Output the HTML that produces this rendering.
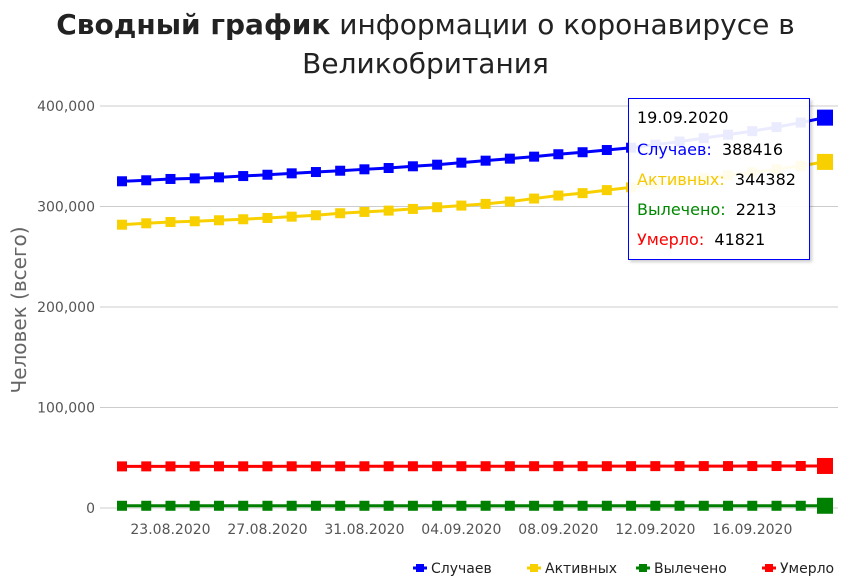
<!DOCTYPE html>
<html><head><meta charset="utf-8"><style>
body{margin:0;background:#fff;font-family:"DejaVu Sans","Liberation Sans",sans-serif;}
#wrap{position:relative;width:851px;height:579px;overflow:hidden;}
#title{position:absolute;left:0;top:5px;width:851px;text-align:center;font-size:28px;line-height:39px;color:#222;}
#tip{position:absolute;left:628px;top:98px;width:180px;height:160px;border:1px solid #00f;background:rgba(255,255,255,0.92);font-size:16px;box-shadow:2px 2px 3px rgba(0,0,0,.2);}
#tip div{position:absolute;left:8px;}
</style></head><body>
<div id="wrap">
<div id="title"><b>Сводный график</b> информации о коронавирусе в<br>Великобритания</div>
<svg id="chart" width="851" height="579" style="position:absolute;left:0;top:0"></svg>
<div id="tip">
<div style="top:9px;color:#000">19.09.2020</div>
<div style="top:41px;color:#00f">Случаев: <span style="color:#000">&nbsp;388416</span></div>
<div style="top:71px;color:#f5c800">Активных: <span style="color:#000">&nbsp;344382</span></div>
<div style="top:101px;color:#080">Вылечено: <span style="color:#000">&nbsp;2213</span></div>
<div style="top:131px;color:#f00">Умерло: <span style="color:#000">&nbsp;41821</span></div>
</div>
</div>
<script>
const dates=["21.08","22.08","23.08","24.08","25.08","26.08","27.08","28.08","29.08","30.08","31.08","01.09","02.09","03.09","04.09","05.09","06.09","07.09","08.09","09.09","10.09","11.09","12.09","13.09","14.09","15.09","16.09","17.09","18.09","19.09"];
const cases=[325100,326100,327400,328000,329000,330300,331600,333000,334300,335600,337000,338300,340000,341600,343600,345600,347600,349600,352000,354000,356200,358500,361500,364600,368000,371500,375000,379000,383500,388416];
const active=[281900,283300,284600,285300,286300,287300,288600,289900,291300,293300,294600,295900,297600,299300,300900,302600,304900,307900,310900,313300,316300,319100,322000,325000,328000,331000,334000,337000,340500,344382];
const recovered=[2213,2213,2213,2213,2213,2213,2213,2213,2213,2213,2213,2213,2213,2213,2213,2213,2213,2213,2213,2213,2213,2213,2213,2213,2213,2213,2213,2213,2213,2213];
const deaths=[41400,41420,41430,41450,41460,41470,41480,41490,41500,41510,41520,41530,41540,41550,41560,41570,41580,41590,41600,41610,41620,41640,41660,41680,41700,41720,41740,41760,41790,41821];
const yTicks=[0,100000,200000,300000,400000];
const xTickIdx=[2,6,10,14,18,22,26];
const NS="http://www.w3.org/2000/svg";
const svg=document.getElementById('chart');
const x=i=>122+i*(825-122)/(dates.length-1);
const y=v=>508-v*402/400000;
function mk(t,a){const e=document.createElementNS(NS,t);for(const k in a)e.setAttribute(k,a[k]);svg.appendChild(e);return e;}
yTicks.forEach(v=>{
 const l=mk('line',{x1:100,x2:838,y1:y(v),y2:y(v),stroke:'#ccc','stroke-width':1});
 
 
 const t=mk('text',{x:95,y:y(v)+5,'text-anchor':'end','font-size':14,fill:'#555'});
 t.textContent=v.toLocaleString('en-US');
 
 
});
xTickIdx.forEach(i=>{
 const t=mk('text',{x:x(i),y:534,'text-anchor':'middle','font-size':14,fill:'#555'});
 t.textContent=dates[i]+'.2020';
 
 
});
const yt=mk('text',{x:0,y:0,transform:'translate(26,310) rotate(-90)','text-anchor':'middle','font-size':20,fill:'#666'});
yt.textContent='Человек (всего)';


const series=[["cases",cases,"#0000ff"],["active",active,"#f8d000"],["recovered",recovered,"#008000"],["deaths",deaths,"#ff0000"]];
series.forEach(([n,d,c])=>{
 const p=mk('polyline',{points:d.map((v,i)=>x(i)+','+y(v)).join(' '),fill:'none',stroke:c,'stroke-width':3});
 
 
 d.forEach((v,i)=>{
  const s=i===d.length-1?16:10;
  const r=mk('rect',{x:x(i)-s/2,y:y(v)-s/2,width:s,height:s,fill:c});
  
  
 });
});
const leg=[["Случаев","#0000ff",413],["Активных","#f8d000",527],["Вылечено","#008000",636],["Умерло","#ff0000",762]];
leg.forEach(([t,c,lx])=>{
 const g=mk('g',{});
 
 
 const a=document.createElementNS(NS,'line');a.setAttribute('x1',lx);a.setAttribute('x2',lx+14);a.setAttribute('y1',568);a.setAttribute('y2',568);a.setAttribute('stroke',c);a.setAttribute('stroke-width',3);g.appendChild(a);
 const b=document.createElementNS(NS,'rect');b.setAttribute('x',lx+3);b.setAttribute('y',564);b.setAttribute('width',8);b.setAttribute('height',8);b.setAttribute('fill',c);g.appendChild(b);
 const tx=document.createElementNS(NS,'text');tx.setAttribute('x',lx+18);tx.setAttribute('y',573);tx.setAttribute('font-size',14);tx.setAttribute('fill','#222');tx.textContent=t;g.appendChild(tx);
});
</script>
</body></html>
